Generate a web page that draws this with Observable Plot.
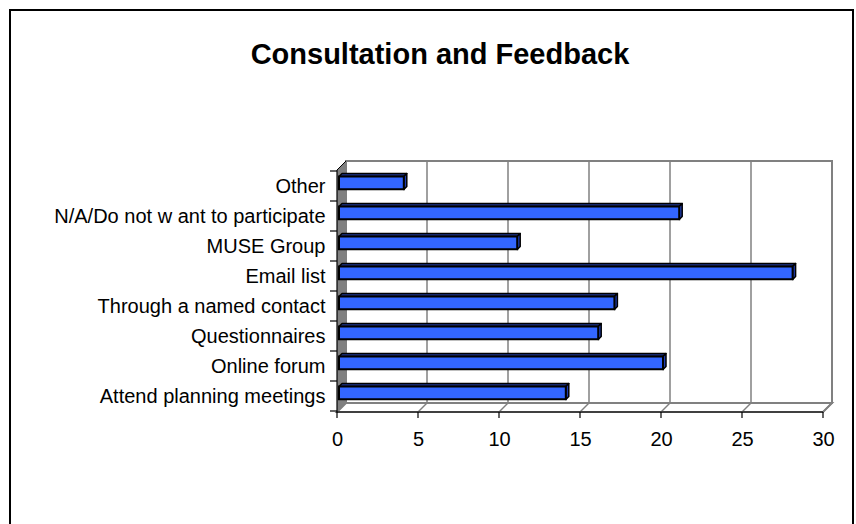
<!DOCTYPE html>
<html>
<head>
<meta charset="utf-8">
<script src="https://cdn.jsdelivr.net/npm/d3@7"></script>
<script src="https://cdn.jsdelivr.net/npm/@observablehq/plot@0.6"></script>
<style>
  html, body { margin: 0; padding: 0; background: #fff; overflow: hidden; }
  #wrap { position: relative; width: 856px; height: 524px; overflow: hidden; background: #fff; }
  #frame { position: absolute; left: 9px; top: 9px; width: 845px; height: 600px; border: 2px solid #000; box-sizing: border-box; }
  #title { position: absolute; left: 20px; width: 840px; top: 40px; text-align: center;
           font: bold 29px "Liberation Sans", Arial, sans-serif; line-height: 1; color: #000; }
  #chart { position: absolute; left: 0; top: 0; }
</style>
</head>
<body>
<div id="wrap">
  <div id="frame"></div>
  <div id="title">Consultation and Feedback</div>
  <div id="chart"></div>
</div>
<script>
// Data (bottom-to-top order as in the source chart)
const categories = [
  "Attend planning meetings",
  "Online forum",
  "Questionnaires",
  "Through a named contact",
  "Email list",
  "MUSE Group",
  "N/A/Do not w ant to participate",
  "Other"
];
const values = [14, 20, 16, 17, 28, 11, 21, 4];
const xTicks = [0, 5, 10, 15, 20, 25, 30];

const data = categories.map((c, i) => ({cat: c, value: values[i]}));

const D = 9;        // wall depth offset
const B = 3;        // bar depth offset
const barTop = 5.5, barBot = 18.5, barDx = 2;

function walls(index, scales, vals, dims) {
  const x = scales.x, y = scales.y;
  const x0 = x(xTicks[0]), x1 = x(xTicks[xTicks.length - 1]);
  const yt = dims.marginTop, yb = dims.height - dims.marginBottom;
  const g = d3.create("svg:g");
  g.append("rect").attr("x", x0 + D).attr("y", yt - D).attr("width", x1 - x0).attr("height", yb - yt)
    .attr("fill", "#fff").attr("stroke", "#808080").attr("stroke-width", 2);
  for (const v of xTicks.slice(1, -1)) {
    g.append("line").attr("x1", x(v) + D).attr("x2", x(v) + D).attr("y1", yt - D).attr("y2", yb - D)
      .attr("stroke", "#808080").attr("stroke-width", 1.5);
  }
  g.append("path").attr("d", `M${x0},${yb}L${x0 + D},${yb - D}L${x1 + D},${yb - D}L${x1},${yb}Z`)
    .attr("fill", "#fff").attr("stroke", "#808080").attr("stroke-width", 2);
  for (const v of xTicks.slice(1)) {
    g.append("line").attr("x1", x(v)).attr("y1", yb).attr("x2", x(v) + D).attr("y2", yb - D)
      .attr("stroke", "#808080").attr("stroke-width", 1.5);
  }
  g.append("path").attr("d", `M${x0},${yt}L${x0 + D},${yt - D}L${x0 + D},${yb - D}L${x0},${yb}Z`)
    .attr("fill", "#808080").attr("stroke", "none");
  g.append("line").attr("x1", x0).attr("y1", yt).attr("x2", x0 + D).attr("y2", yt - D)
    .attr("stroke", "#000").attr("stroke-width", 1);
  g.append("line").attr("x1", x0).attr("x2", x0).attr("y1", yt).attr("y2", yb + 0.5)
    .attr("stroke", "#000").attr("stroke-width", 1.2);
  g.append("line").attr("x1", x0).attr("x2", x1).attr("y1", yb).attr("y2", yb)
    .attr("stroke", "#000").attr("stroke-width", 1.2);
  for (const v of xTicks) {
    g.append("line").attr("x1", x(v)).attr("x2", x(v)).attr("y1", yb).attr("y2", yb + 6)
      .attr("stroke", "#000").attr("stroke-width", 1.2);
  }
  const bw = y.bandwidth();
  const edges = new Set();
  for (const c of categories) { edges.add(y(c)); edges.add(y(c) + bw); }
  for (const e of edges) {
    g.append("line").attr("x1", x0 - 7).attr("x2", x0).attr("y1", e).attr("y2", e)
      .attr("stroke", "#000").attr("stroke-width", 1.2);
  }
  return g.node();
}

function barFaces(index, scales, vals, dims) {
  const x = scales.x, y = scales.y;
  const g = d3.create("svg:g");
  for (const d of data) {
    const xa = x(0) + barDx, xb = x(d.value) + barDx;
    const ytp = y(d.cat) + barTop, ybt = y(d.cat) + barBot;
    g.append("path")
      .attr("d", `M${xa},${ytp}L${xa + B},${ytp - B}L${xb + B},${ytp - B}L${xb},${ytp}Z`)
      .attr("fill", "#1d3490").attr("stroke", "#000").attr("stroke-width", 1.5).attr("stroke-linejoin", "round");
    g.append("path")
      .attr("d", `M${xb},${ytp}L${xb + B},${ytp - B}L${xb + B},${ybt - B}L${xb},${ybt}Z`)
      .attr("fill", "#1f3db0").attr("stroke", "#000").attr("stroke-width", 1.5).attr("stroke-linejoin", "round");
  }
  return g.node();
}

const chart = Plot.plot({
  width: 856,
  height: 524,
  marginLeft: 337,
  marginRight: 33,
  marginTop: 170,
  marginBottom: 112,
  style: {font: "20px 'Liberation Sans', Arial, sans-serif", color: "#000", background: "transparent", overflow: "visible"},
  x: {domain: [0, 30], ticks: xTicks, tickSize: 0, tickPadding: 19, label: null},
  y: {domain: [...categories].reverse(), padding: 0, tickSize: 0, tickPadding: 12, label: null},
  marks: [
    walls,
    barFaces,
    Plot.barX(data, {x: "value", y: "cat", fill: "#3366ff", stroke: "#000", strokeWidth: 2,
                     insetTop: barTop, insetBottom: 30.25 - barBot, dx: barDx})
  ]
});
document.getElementById("chart").appendChild(chart);
</script>
</body>
</html>
